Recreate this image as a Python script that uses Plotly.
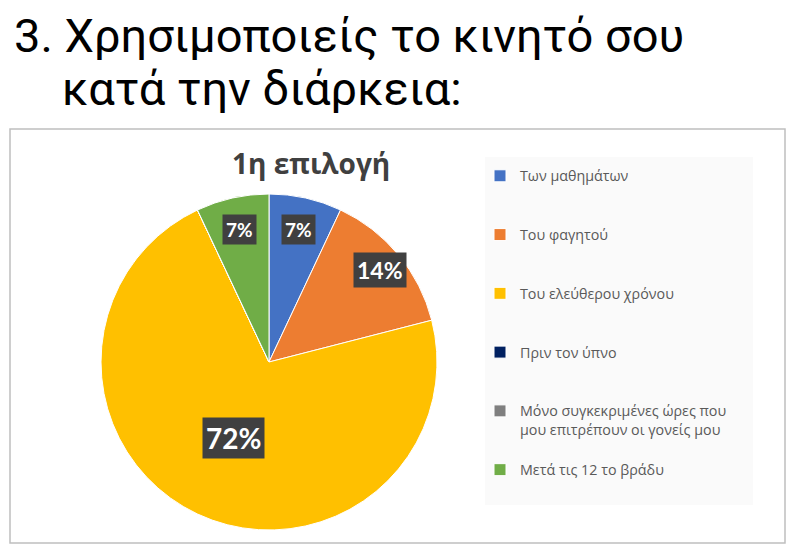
import math
import plotly.graph_objects as go

# ---- data ----
categories = ["Των μαθημάτων", "Του φαγητού", "Του ελεύθερου χρόνου", "Πριν τον ύπνο",
              "Μόνο συγκεκριμένες ώρες που<br>μου επιτρέπουν οι γονείς μου", "Μετά τις 12 το βράδυ"]
values = [7, 14, 72, 0, 0, 7]
colors = ["#4472C4", "#ED7D31", "#FFC000", "#002060", "#7F7F7F", "#70AD47"]
slide_title_lines = ["3. Χρησιμοποιείς το κινητό σου", "κατά την διάρκεια:"]
chart_title = "1η επιλογή"

# ---- page geometry (the browser adds an 8px body margin) ----
OFF = 8
W, H = 799 - OFF, 551 - OFF

def px(x):
    return (x - OFF) / W

def py(y):
    return 1 - (y - OFF) / H

cx, cy, R = 269, 362, 168
label_sizes = {7: 19, 14: 23, 72: 28}
label_rfrac = {7: 0.81, 14: 0.86, 72: 0.5}

# legend labels padded with blank lines for spacing
legend_labels = []
for c in categories:
    n = c.count("<br>") + 1
    legend_labels.append(c + "<br> " * (3 - n))

fig = go.Figure(go.Pie(
    labels=legend_labels,
    values=values,
    sort=False,
    direction="clockwise",
    rotation=0,
    marker=dict(colors=colors, line=dict(color="white", width=1)),
    textinfo="none",
    hoverinfo="label+percent",
    domain=dict(x=[px(cx - R), px(cx + R)], y=[py(cy + R), py(cy - R)]),
    showlegend=True,
))

shapes = [
    dict(type="rect", xref="paper", yref="paper", x0=px(10), x1=px(785), y0=py(543), y1=py(129),
         line=dict(color="#BFBFBF", width=1.5), fillcolor="rgba(0,0,0,0)", layer="below"),
    dict(type="rect", xref="paper", yref="paper", x0=px(485), x1=px(753), y0=py(505), y1=py(157),
         line=dict(width=0), fillcolor="#FAFAFA", layer="below"),
]

title_font = dict(family="Roboto, sans-serif", size=47, color="#000000")
annotations = [
    dict(text=slide_title_lines[0], xref="paper", yref="paper", x=px(12), y=py(35),
         xanchor="left", yanchor="middle", showarrow=False, font=title_font, height=50),
    dict(text=slide_title_lines[1], xref="paper", yref="paper", x=px(60), y=py(88),
         xanchor="left", yanchor="middle", showarrow=False, font=title_font, height=50),
    dict(text="<b>" + chart_title + "</b>", xref="paper", yref="paper", x=px(311), y=py(163),
         xanchor="center", yanchor="middle", showarrow=False,
         font=dict(family="Open Sans, sans-serif", size=28, color="#404040")),
]

total = sum(values)
cum = 0
for v in values:
    if v > 0:
        theta = 2 * math.pi * (cum + v / 2) / total
        r = R * label_rfrac.get(v, 0.8)
        lx = cx + r * math.sin(theta)
        ly = cy - r * math.cos(theta)
        annotations.append(dict(
            text="<b>%d%%</b>" % round(100 * v / total), xref="paper", yref="paper",
            x=px(lx), y=py(ly), xanchor="center", yanchor="middle", showarrow=False,
            bgcolor="#404040", borderpad=3,
            font=dict(family="Lato, Noto Sans, sans-serif", size=label_sizes.get(v, 18), color="white")))
    cum += v

fig.update_layout(
    width=W, height=H,
    margin=dict(l=0, r=0, t=0, b=0),
    paper_bgcolor="white",
    shapes=shapes,
    annotations=annotations,
    legend=dict(x=px(480), y=py(160), xanchor="left", yanchor="top", valign="top",
                bgcolor="rgba(0,0,0,0)", traceorder="normal",
                font=dict(family="Open Sans, sans-serif", size=14.3, color="#595959")),
)

fig.write_html("out.html")
